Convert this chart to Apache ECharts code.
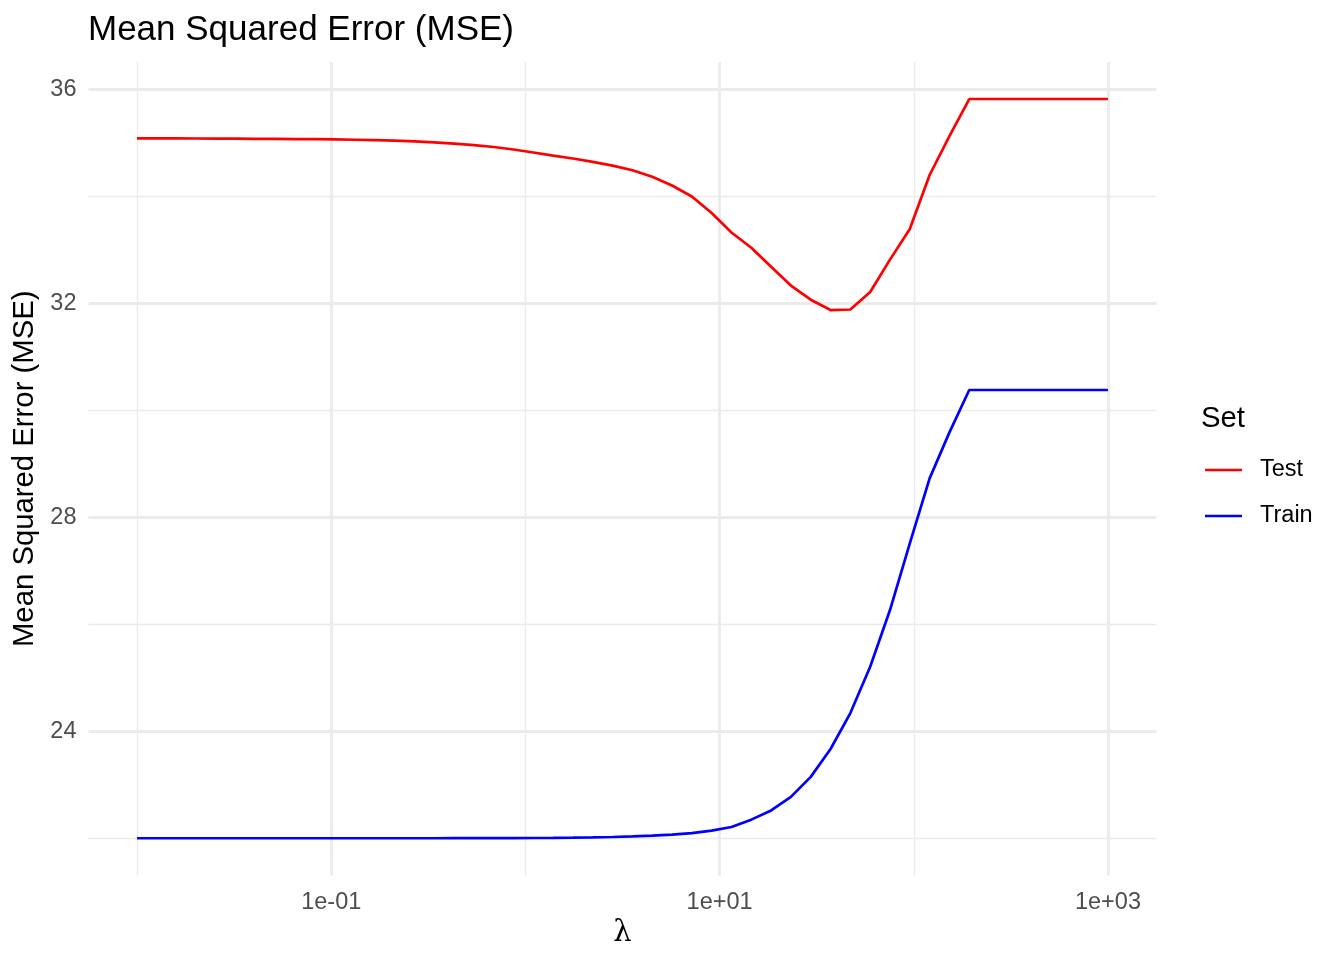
<!DOCTYPE html>
<html><head><meta charset="utf-8">
<script src="https://cdn.jsdelivr.net/npm/echarts@6/dist/echarts.min.js"></script>
<style>html,body{margin:0;padding:0;background:#fff}#chart{width:1344px;height:960px}</style>
</head><body><div id="chart"></div>
<script>
// lambda grid (50 log-spaced values from 1e-2 to 1e3)
const lambda = [0.01, 0.0126486, 0.0159986, 0.0202359, 0.0255955, 0.0323746, 0.0409492, 0.0517947, 0.0655129, 0.0828643,
  0.104811, 0.132571, 0.167683, 0.212095, 0.268270, 0.339322, 0.429193, 0.542868, 0.686649, 0.868511,
  1.09854, 1.38950, 1.75751, 2.22300, 2.81177, 3.55648, 4.49843, 5.68987, 7.19686, 9.10298,
  11.5140, 14.5635, 18.4207, 23.2995, 29.4705, 37.2759, 47.1487, 59.6362, 75.4312, 95.4095,
  120.679, 152.642, 193.070, 244.205, 308.884, 390.694, 494.171, 625.055, 790.604, 1000];
const testMSE = [35.079, 35.079, 35.077, 35.075, 35.073, 35.071, 35.069, 35.067, 35.065, 35.062,
  35.058, 35.052, 35.045, 35.034, 35.021, 35.004, 34.981, 34.953, 34.916, 34.869,
  34.813, 34.755, 34.701, 34.639, 34.568, 34.482, 34.359, 34.196, 33.991, 33.682,
  33.318, 33.034, 32.679, 32.327, 32.062, 31.869, 31.879, 32.206, 32.811, 33.383,
  34.393, 35.121, 35.813, 35.813, 35.813, 35.813, 35.813, 35.813, 35.813, 35.813];
const trainMSE = [21.996, 21.996, 21.996, 21.996, 21.996, 21.996, 21.996, 21.996, 21.996, 21.996,
  21.996, 21.996, 21.996, 21.996, 21.996, 21.996, 21.997, 21.997, 21.998, 21.999,
  22.001, 22.004, 22.008, 22.013, 22.020, 22.030, 22.044, 22.063, 22.091, 22.140,
  22.206, 22.344, 22.516, 22.770, 23.144, 23.664, 24.336, 25.202, 26.262, 27.508,
  28.723, 29.583, 30.374, 30.374, 30.374, 30.374, 30.374, 30.374, 30.374, 30.374];
const seriesNames = ['Test', 'Train'];
const xTickValues = [0.1, 10, 1000];
const xTickLabels = ['1e-01', '1e+01', '1e+03'];
const xMinorGrid = [0.01, 1, 100];
const yTickValues = [24, 28, 32, 36];
const yMinorGrid = [22, 26, 30, 34];

const FONT = 'Liberation Sans, Arial, Helvetica, sans-serif';
const GRIDC = '#EBEBEB';
const near = (a, b) => Math.abs(Math.log10(a) - Math.log10(b)) < 1e-6;

const gridLines = [];
xTickValues.forEach(v => gridLines.push({xAxis: v, lineStyle: {color: GRIDC, width: 2.8, type: 'solid'}}));
xMinorGrid.forEach(v => gridLines.push({xAxis: v, lineStyle: {color: GRIDC, width: 1.4, type: 'solid'}}));
yTickValues.forEach(v => gridLines.push({yAxis: v, lineStyle: {color: GRIDC, width: 2.8, type: 'solid'}}));
yMinorGrid.forEach(v => gridLines.push({yAxis: v, lineStyle: {color: GRIDC, width: 1.4, type: 'solid'}}));

const chart = echarts.init(document.getElementById('chart'), null, {renderer: 'canvas'});
chart.setOption({
  animation: false,
  backgroundColor: '#ffffff',
  title: {
    text: 'Mean Squared Error (MSE)', left: 88, top: 13, padding: 0,
    textStyle: {fontFamily: FONT, fontSize: 35, fontWeight: 'normal', color: '#000'}
  },
  grid: {left: 88.5, right: 187.5, top: 62, bottom: 84.5, containLabel: false},
  xAxis: {
    type: 'log', logBase: 10, min: Math.pow(10, -2.25), max: Math.pow(10, 3.25),
    name: 'λ', nameLocation: 'middle', nameGap: 42,
    nameTextStyle: {fontFamily: 'DejaVu Serif, Liberation Serif, serif', fontSize: 29, color: '#000'},
    axisLine: {show: false}, axisTick: {show: false}, splitLine: {show: false}, minorSplitLine: {show: false},
    axisLabel: {
      margin: 15, color: '#4D4D4D', fontFamily: FONT, fontSize: 23.5,
      showMinLabel: true, showMaxLabel: true,
      formatter: v => { const i = xTickValues.findIndex(t => near(t, v)); return i >= 0 ? xTickLabels[i] : ''; }
    }
  },
  yAxis: {
    type: 'value', min: 21.3, max: 36.505, splitNumber: 8, minInterval: 2, maxInterval: 2,
    name: 'Mean Squared Error (MSE)', nameLocation: 'middle', nameGap: 42,
    nameTextStyle: {fontFamily: FONT, fontSize: 29.3, color: '#000'},
    axisLine: {show: false}, axisTick: {show: false}, splitLine: {show: false},
    axisLabel: {
      margin: 12, color: '#4D4D4D', fontFamily: FONT, fontSize: 23.5,
      formatter: v => yTickValues.some(t => Math.abs(t - v) < 1e-9) ? String(v) : ''
    }
  },
  legend: {
    data: seriesNames, orient: 'vertical', left: 1205, top: 458, padding: 0,
    icon: 'rect', itemWidth: 37, itemHeight: 2.7, itemGap: 22,
    textStyle: {fontFamily: FONT, fontSize: 23.5, color: '#000', lineHeight: 24, padding: [0, 0, 0, 13]}
  },
  graphic: [{
    type: 'text', left: 1201, top: 404,
    style: {text: 'Set', font: '29.3px ' + FONT, fill: '#000'}
  }],
  series: [
    {
      name: 'gridlines', type: 'line', data: [], silent: true, z: 1,
      markLine: {silent: true, symbol: ['none', 'none'], animation: false, z: 1,
        label: {show: false}, emphasis: {disabled: true}, data: gridLines}
    },
    {
      name: seriesNames[0], type: 'line', z: 3, symbol: 'none', showSymbol: false,
      color: '#FF0000', itemStyle: {color: '#FF0000'}, lineStyle: {color: '#FF0000', width: 2.7},
      data: lambda.map((x, i) => [x, testMSE[i]])
    },
    {
      name: seriesNames[1], type: 'line', z: 3, symbol: 'none', showSymbol: false,
      color: '#0000FF', itemStyle: {color: '#0000FF'}, lineStyle: {color: '#0000FF', width: 2.7},
      data: lambda.map((x, i) => [x, trainMSE[i]])
    }
  ]
});
</script></body></html>
